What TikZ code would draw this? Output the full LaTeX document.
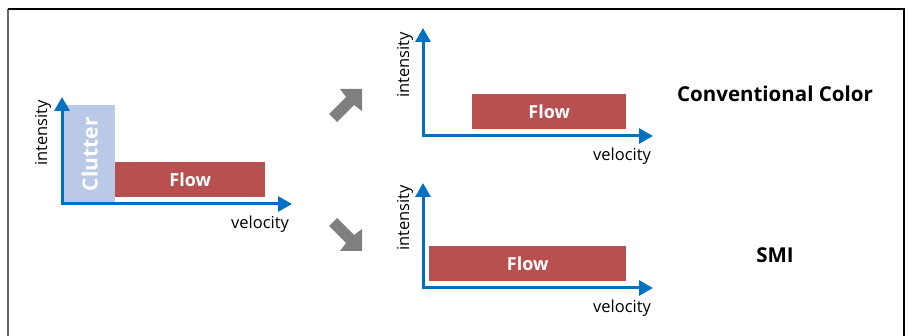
\documentclass[tikz,border=0pt]{standalone}
\usepackage{fontspec}
\setmainfont{Open Sans}
\usetikzlibrary{arrows.meta}
\definecolor{axisblue}{HTML}{0070C0}
\definecolor{flowred}{HTML}{B85050}
\definecolor{clutterblue}{HTML}{B9C9E6}
\definecolor{arrowgray}{HTML}{7F7F7F}

\begin{document}
\begin{tikzpicture}[x=1pt,y=-1pt,
    axis/.style={draw=axisblue,line width=3pt,>={Triangle[length=14pt,width=15pt]},<->},
    bar/.style={fill=flowred,text=white,font=\fontsize{18}{20}\selectfont\bfseries,
                inner sep=0pt,minimum height=35pt,anchor=north west},
    lbl/.style={font=\fontsize{16.5}{18}\selectfont},
    title/.style={font=\fontsize{20.5}{22}\selectfont\bfseries}]
    \useasboundingbox (0,0) rectangle (909,336);

    % frame
    \draw[gray!80!black,line width=2pt] (8,9) -- (8,336);
    \draw[line width=1.5pt] (8,9) -- (904,9) -- (904,336);

    % input spectrum
    \node[fill=clutterblue,inner sep=0pt,minimum width=51pt,minimum height=98pt,anchor=north west] (clutter) at (64,105) {};
    \node[white,rotate=90,font=\fontsize{21}{22}\selectfont\bfseries] (cluttertext) at (clutter.center) {Clutter};
    \node[bar,minimum width=150pt] (flowA) at (115,162) {Flow};
    \coordinate (oA) at (62,204);
    \draw[axis] (62,97) coordinate (yA) -- (oA) -- (292,204) coordinate (xA);
    \node[lbl,rotate=90] (intA) at (43,133) {intensity};
    \node[lbl] (velA) at (260,224) {velocity};

    % gray arrows
    \begin{scope}[shift={(362,89)}]
        \fill[arrowgray] (-22,0) -- (0,0) -- (0,22) -- (-8,16) -- (-25,33) -- (-33,25) -- (-16,8) -- cycle;
    \end{scope}
    \begin{scope}[shift={(362,251)},yscale=-1]
        \fill[arrowgray] (-22,0) -- (0,0) -- (0,22) -- (-8,16) -- (-25,33) -- (-33,25) -- (-16,8) -- cycle;
    \end{scope}

    % conventional color
    \node[bar,minimum width=154pt] (flowB) at (472,94) {Flow};
    \coordinate (oB) at (423,136);
    \draw[axis] (423,28) coordinate (yB) -- (oB) -- (653,136) coordinate (xB);
    \node[lbl,rotate=90] (intB) at (405,65) {intensity};
    \node[lbl] (velB) at (622,156) {velocity};
    \node[title] (conv) at (775,94) {Conventional Color};

    % SMI
    \node[bar,minimum width=197pt] (flowC) at (429,246) {Flow};
    \coordinate (oC) at (423,288);
    \draw[axis] (423,183) coordinate (yC) -- (oC) -- (653,288) coordinate (xC);
    \node[lbl,rotate=90] (intC) at (405,218) {intensity};
    \node[lbl] (velC) at (622,308) {velocity};
    \node[title] (smi) at (775,255) {SMI};
\end{tikzpicture}
\end{document}
